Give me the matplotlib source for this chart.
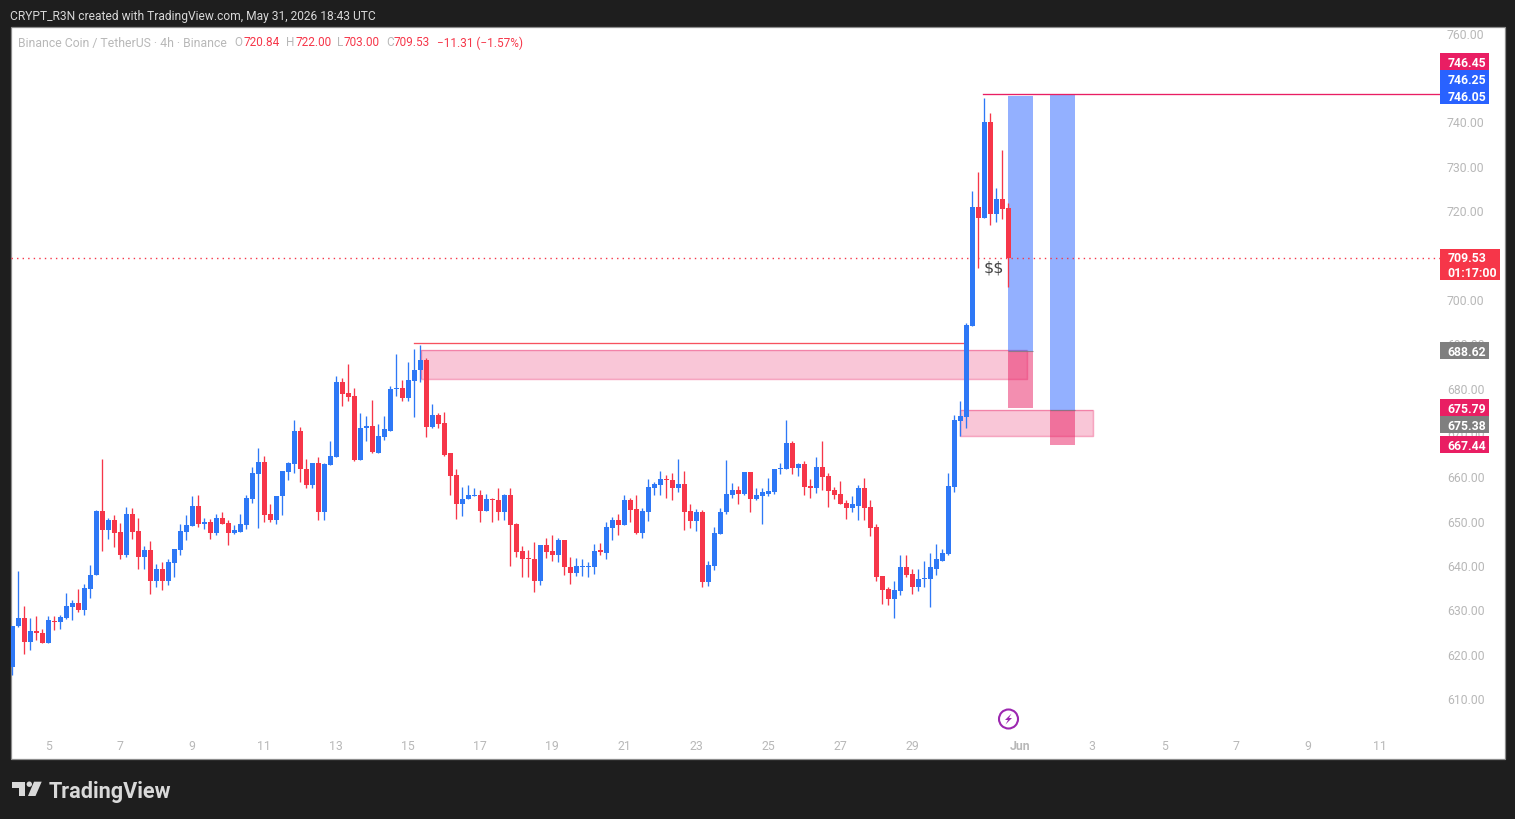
import numpy as np
import matplotlib
matplotlib.use('Agg')
import matplotlib.pyplot as plt
from matplotlib.patches import Rectangle, Circle, Polygon
from matplotlib.transforms import ScaledTranslation

# BNB/USDT 4h candles
opens = [617.3, 626.5, 628.5, 622.9, 625.5, 625.1, 622.7, 627.8, 627.4, 628.5,
         631.0, 631.9, 630.3, 635.0, 638.0, 652.6, 648.3, 650.6, 647.9, 642.5,
         651.9, 648.1, 642.2, 643.8, 636.8, 639.5, 636.8, 640.9, 643.8, 647.9,
         649.2, 653.7, 649.7, 650.1, 647.6, 651.0, 649.9, 647.6, 647.9, 649.4,
         655.3, 660.9, 663.6, 651.9, 650.6, 655.8, 661.4, 663.2, 670.6, 662.1,
         658.5, 663.4, 652.2, 663.0, 664.8, 681.5, 679.2, 678.5, 664.1, 671.3,
         671.7, 665.7, 669.3, 670.6, 680.1, 680.3, 678.1, 681.9, 684.2, 686.6,
         671.5, 674.2, 672.4, 665.5, 660.7, 654.2, 655.2, 656.0, 656.2, 652.6,
         655.3, 655.1, 652.4, 656.2, 649.7, 643.6, 642.0, 641.8, 636.8, 644.9,
         643.6, 642.7, 646.1, 640.0, 638.6, 640.0, 640.0, 640.0, 643.6, 643.1,
         648.8, 650.6, 649.4, 654.9, 653.0, 647.6, 652.4, 657.8, 658.5, 659.8,
         659.6, 657.8, 658.7, 652.6, 650.3, 652.4, 636.6, 640.2, 647.4, 652.2,
         656.2, 657.3, 656.4, 661.4, 655.3, 656.0, 656.4, 656.9, 661.9, 662.1,
         667.9, 662.3, 663.2, 658.2, 657.6, 662.5, 660.5, 657.3, 656.4, 654.4,
         653.3, 653.7, 657.8, 653.5, 649.0, 637.9, 635.0, 632.8, 634.6, 639.8,
         638.4, 635.5, 637.1, 637.1, 639.5, 641.3, 642.9, 658.0, 672.9, 673.8,
         694.3, 721.1, 718.6, 740.1, 719.5, 722.9, 720.84]
highs = [626.7, 639.1, 631.2, 628.5, 628.9, 626.0, 628.9, 628.9, 629.2, 634.1,
         632.5, 635.0, 636.1, 640.4, 652.8, 664.3, 651.0, 651.7, 649.9, 653.5,
         653.3, 651.0, 644.7, 645.8, 640.6, 641.1, 641.6, 644.0, 649.7, 651.7,
         656.0, 656.2, 651.0, 650.8, 651.9, 652.4, 650.6, 649.4, 651.9, 656.2,
         662.5, 666.8, 665.0, 654.2, 656.0, 661.6, 663.6, 673.1, 671.5, 664.3,
         663.4, 664.8, 663.4, 668.2, 683.0, 682.4, 685.7, 680.3, 674.7, 674.0,
         677.6, 672.2, 674.0, 680.8, 687.8, 682.1, 686.2, 689.1, 690.0, 686.9,
         676.7, 674.7, 674.9, 665.5, 662.1, 658.0, 658.5, 657.8, 657.3, 656.4,
         655.5, 657.6, 656.4, 657.8, 649.9, 644.7, 643.8, 645.6, 644.9, 646.5,
         647.2, 646.5, 646.1, 642.2, 642.0, 641.8, 641.1, 645.2, 645.4, 650.1,
         651.2, 651.9, 656.2, 655.5, 656.2, 653.3, 659.8, 659.1, 661.6, 660.7,
         661.2, 664.3, 661.6, 654.2, 653.0, 652.8, 641.3, 648.9, 653.3, 664.1,
         658.9, 658.2, 661.4, 661.4, 657.8, 657.8, 660.0, 662.1, 663.4, 673.1,
         668.4, 663.4, 663.9, 659.8, 664.8, 668.2, 661.2, 658.0, 659.2, 654.9,
         656.0, 658.5, 660.0, 655.1, 649.5, 637.9, 635.5, 636.8, 642.7, 642.7,
         639.5, 639.5, 641.3, 643.1, 645.2, 644.0, 661.2, 674.2, 677.4, 695.0,
         724.7, 729.0, 745.7, 742.3, 725.4, 734.0, 722.0]
lows = [615.6, 626.4, 620.2, 621.3, 623.5, 622.7, 622.7, 625.8, 626.0, 628.2,
        628.0, 629.8, 629.2, 633.0, 638.0, 643.6, 646.3, 644.5, 641.8, 642.2,
        646.3, 639.5, 639.5, 633.9, 635.5, 634.8, 635.9, 637.7, 642.5, 646.1,
        649.2, 649.0, 648.5, 646.3, 647.2, 649.7, 644.9, 647.4, 647.9, 648.5,
        654.4, 648.8, 650.1, 650.1, 649.7, 651.7, 659.6, 661.2, 659.1, 657.8,
        657.6, 650.6, 650.6, 663.0, 664.6, 676.1, 677.4, 663.9, 664.1, 668.4,
        665.5, 665.7, 668.6, 670.6, 678.5, 677.4, 677.4, 673.8, 681.7, 669.3,
        671.3, 671.3, 665.0, 656.2, 650.8, 651.3, 655.2, 655.8, 650.1, 652.6,
        650.1, 650.6, 650.4, 640.2, 642.2, 637.7, 637.7, 634.3, 635.9, 642.0,
        641.3, 641.1, 638.2, 636.1, 637.9, 637.9, 637.7, 638.4, 642.5, 641.6,
        646.1, 647.2, 649.4, 650.1, 647.4, 646.5, 650.3, 656.2, 656.2, 655.5,
        654.9, 656.7, 648.3, 648.8, 648.1, 635.5, 635.7, 639.3, 647.4, 651.9,
        655.5, 654.2, 656.2, 652.2, 655.1, 649.7, 655.8, 656.4, 660.9, 662.1,
        660.9, 660.5, 656.2, 655.5, 656.5, 657.3, 653.5, 655.3, 654.2, 650.8,
        652.4, 650.4, 650.4, 646.8, 636.8, 631.6, 631.4, 628.3, 633.7, 637.7,
        633.9, 634.6, 635.3, 631.0, 638.2, 641.3, 642.7, 656.7, 669.5, 671.3,
        694.3, 707.4, 718.6, 716.9, 717.7, 718.4, 703.0]
closes = [626.7, 628.5, 622.9, 625.5, 625.0, 622.7, 628.0, 627.4, 628.7, 631.2,
          631.9, 630.3, 635.2, 638.2, 652.6, 648.3, 650.6, 647.6, 642.5, 651.9,
          647.9, 642.2, 643.8, 636.8, 639.5, 636.8, 641.1, 644.0, 648.1, 649.4,
          653.7, 649.7, 650.1, 647.6, 651.0, 649.7, 647.6, 648.3, 649.7, 655.5,
          661.2, 663.6, 651.7, 650.6, 656.0, 661.6, 663.4, 670.6, 661.9, 658.5,
          663.4, 652.2, 663.2, 665.0, 681.5, 679.0, 678.3, 664.1, 671.3, 671.7,
          665.9, 669.5, 670.9, 680.1, 680.3, 678.1, 682.1, 684.4, 686.6, 671.5,
          674.2, 672.2, 665.2, 660.5, 654.2, 655.3, 656.2, 656.2, 652.6, 655.3,
          654.9, 652.4, 656.2, 649.4, 643.4, 641.8, 641.8, 636.8, 644.9, 643.4,
          642.7, 646.1, 639.8, 638.6, 640.2, 640.2, 640.2, 643.6, 643.4, 649.0,
          650.6, 649.4, 654.9, 652.8, 647.6, 652.6, 658.0, 658.7, 659.8, 659.6,
          657.8, 658.7, 652.4, 650.3, 652.4, 636.6, 640.4, 647.6, 652.4, 656.4,
          657.3, 656.4, 661.4, 655.3, 656.2, 656.7, 657.1, 662.1, 662.3, 667.9,
          662.3, 663.2, 658.0, 657.6, 662.5, 660.3, 657.1, 656.2, 654.2, 653.3,
          654.0, 657.8, 653.3, 648.8, 637.7, 634.8, 632.8, 634.8, 639.8, 638.2,
          635.5, 637.1, 637.3, 639.8, 641.6, 643.1, 658.2, 673.1, 674.0, 694.5,
          721.1, 718.6, 740.1, 719.5, 722.9, 720.7, 709.53]

price_ticks = list(range(610, 770, 10))
day_labels = ['5', '7', '9', '11', '13', '15', '17', '19', '21', '23', '25', '27', '29',
              'Jun', '3', '5', '7', '9', '11']
day_bars = [6, 18, 30, 42, 54, 66, 78, 90, 102, 114, 126, 138, 150,
            168, 180, 192, 204, 216, 228]

# drawn zones and position tools: (bar from, bar to, price low, price high)
zones = [(68.1, 169.1, 682.2, 688.8), (158.0, 180.1, 669.4, 675.3)]
tool_bars = [(166.0, 170.1), (173.0, 177.1)]
tool_top = [746.15, 746.3]
tool_entry = [688.6, 675.3]
tool_stop = [675.7, 667.4]
last_price = 709.53
high_line = 746.45
res_line = 690.3

BLUE = '#2e78f6'
RED = '#f63649'
PINK = '#e91e63'
TOOL_BLUE = '#2962ff'
TAG_GREY = '#7f7f7f'
BG = '#1e1e1e'
FONT = 'Roboto'
plt.rcParams['font.family'] = [FONT, 'DejaVu Sans']

W, H = 1515, 820
fig = plt.figure(figsize=(W / 100, H / 100), dpi=100, facecolor=BG)

# white pane behind the chart
fig.add_artist(Rectangle((10.5 / W, 1 - 759.5 / H), 1494 / W, 732 / H, transform=fig.transFigure,
                         facecolor='white', edgecolor='#8c8c8c', linewidth=0.9, zorder=-1))

ax = fig.add_axes([11 / W, 1 - 759 / H, 1429 / W, 731 / H])
ax.patch.set_alpha(0)
ax.set_xlim(-0.217, 237.95)
ax.set_ylim(596.86, 761.61)
for s in ax.spines.values():
    s.set_visible(False)

o = np.array(opens)
c = np.array(closes)
x = np.arange(len(o))
colors = [BLUE if cc >= oo else RED for oo, cc in zip(o, c)]

for (x0, x1, lo, hi) in zones:
    ax.add_patch(Rectangle((x0, lo), x1 - x0, hi - lo, facecolor=PINK, alpha=0.25, edgecolor='none', zorder=1))
    ax.add_patch(Rectangle((x0, lo), x1 - x0, hi - lo, facecolor='none', edgecolor=PINK, alpha=0.4, lw=1.0, zorder=1))

for (x0, x1), top, entry, stop in zip(tool_bars, tool_top, tool_entry, tool_stop):
    ax.add_patch(Rectangle((x0, entry), x1 - x0, top - entry, facecolor=TOOL_BLUE, alpha=0.5, edgecolor='none', zorder=1.5))
    ax.add_patch(Rectangle((x0, stop), x1 - x0, entry - stop, facecolor=PINK, alpha=0.5, edgecolor='none', zorder=1.5))
    ax.plot([x0, x1], [entry, entry], color='#787b86', lw=0.8, alpha=0.8, zorder=1.6, solid_capstyle='butt')

ax.vlines(x, lows, highs, colors=colors, linewidth=0.95, zorder=3)
ax.bar(x, np.maximum(np.abs(c - o), 0.23), bottom=np.minimum(o, c), width=0.84, color=colors, linewidth=0, zorder=3.1)

ax.plot([161.8, 237.95], [high_line, high_line], color=PINK, lw=0.95, zorder=2)
ax.plot([67.0, 158.6], [res_line, res_line], color='#f7525f', lw=0.95, zorder=2)
ax.axhline(last_price, color=RED, lw=1.0, ls=(0, (1, 3)), zorder=2)

ax.set_yticks(price_ticks)
ax.set_yticklabels(['%.2f' % p for p in price_ticks])
ax.yaxis.tick_right()
ax.tick_params(axis='y', length=0, pad=5, labelsize=8.8, labelcolor='#b8b8b8')
# the scale labels sit a little above their price level
lift = ScaledTranslation(0, 0.015, fig.dpi_scale_trans)
for lab in ax.get_yticklabels():
    lab.set_transform(lab.get_transform() + lift)
ax.set_xticks(day_bars)
ax.set_xticklabels(day_labels)
ax.tick_params(axis='x', length=0, pad=-14, labelsize=8.8, labelcolor='#b8b8b8')
for lab in ax.get_xticklabels():
    if lab.get_text() == 'Jun':
        lab.set_fontweight('bold')

# overlay in pixel coordinates for the labels and page furniture
ov = fig.add_axes([0, 0, 1, 1])
ov.set_xlim(0, W)
ov.set_ylim(H, 0)
ov.axis('off')
ov.patch.set_alpha(0)

def price_tag(y0, y1, color, lines, x1=1489):
    ov.add_patch(Rectangle((1440, y0), x1 - 1440, y1 - y0, facecolor=color, edgecolor='none'))
    step = (y1 - y0) / len(lines)
    for k, t in enumerate(lines):
        ov.text(1447.5, y0 + step * (k + 0.5) - 0.8, t, color='white', fontsize=8.8, fontweight='bold', va='center_baseline', ha='left')

price_tag(54, 71, PINK, ['746.45'])
price_tag(71, 88, TOOL_BLUE, ['746.25'])
price_tag(88, 105, TOOL_BLUE, ['746.05'])
price_tag(250, 281, RED, ['709.53', '01:17:00'], x1=1500)
price_tag(343, 360, TAG_GREY, ['688.62'])
price_tag(400, 417, PINK, ['675.79'])
price_tag(417, 434, TAG_GREY, ['675.38'])
price_tag(437, 454, PINK, ['667.44'])

ov.text(10, 15, 'CRYPT_R3N created with TradingView.com, May 31, 2026 18:43 UTC', color='#d8d8d8',
        fontsize=8.65, va='center_baseline', ha='left')

GREY = '#b8b8b8'
ov.text(17.5, 41.5, 'Binance Coin / TetherUS · 4h · Binance', color=GREY, fontsize=8.85, va='center_baseline')
legend_bits = [(234.5, 'O', GREY), (243.5, '720.84', RED), (286, 'H', GREY), (295.5, '722.00', RED),
               (337.5, 'L', GREY), (344, '703.00', RED), (386, 'C', GREY), (393.5, '709.53', RED),
               (437, '\u221211.31 (\u22121.57%)', RED)]
for lx, t, col in legend_bits:
    ov.text(lx, 41.5, t, color=col, fontsize=8.5, va='center_baseline')

ov.text(993.5, 268.5, '$$', color='#444444', fontsize=11.5, ha='center', va='center',
        family='DejaVu Sans', parse_math=False)

# lightning mark
ov.add_patch(Circle((1008.5, 720), 9.5, facecolor='none', edgecolor='#9c27b0', lw=1.5))
ov.add_patch(Polygon([(1011.5, 714.5), (1005, 721), (1008, 721), (1005.5, 725.5), (1012, 719), (1009, 719)],
                     closed=True, facecolor='#9c27b0', edgecolor='none'))

# TradingView logo
LOGO = '#d9d9d9'
ov.add_patch(Polygon([(12, 782.7), (25, 782.7), (25, 797), (18.5, 797), (18.5, 789), (12, 789)], closed=True, facecolor=LOGO, edgecolor='none'))
ov.add_patch(Circle((29.3, 785.2), 2.7, facecolor=LOGO, edgecolor='none'))
ov.add_patch(Polygon([(34, 782.7), (41.7, 782.7), (35.5, 797), (28, 797)], closed=True, facecolor=LOGO, edgecolor='none'))
ov.text(48.5, 790, 'TradingView', color=LOGO, fontsize=15.6, fontweight='bold', va='center_baseline', ha='left')

fig.savefig('out.png', dpi=100, facecolor=BG)
